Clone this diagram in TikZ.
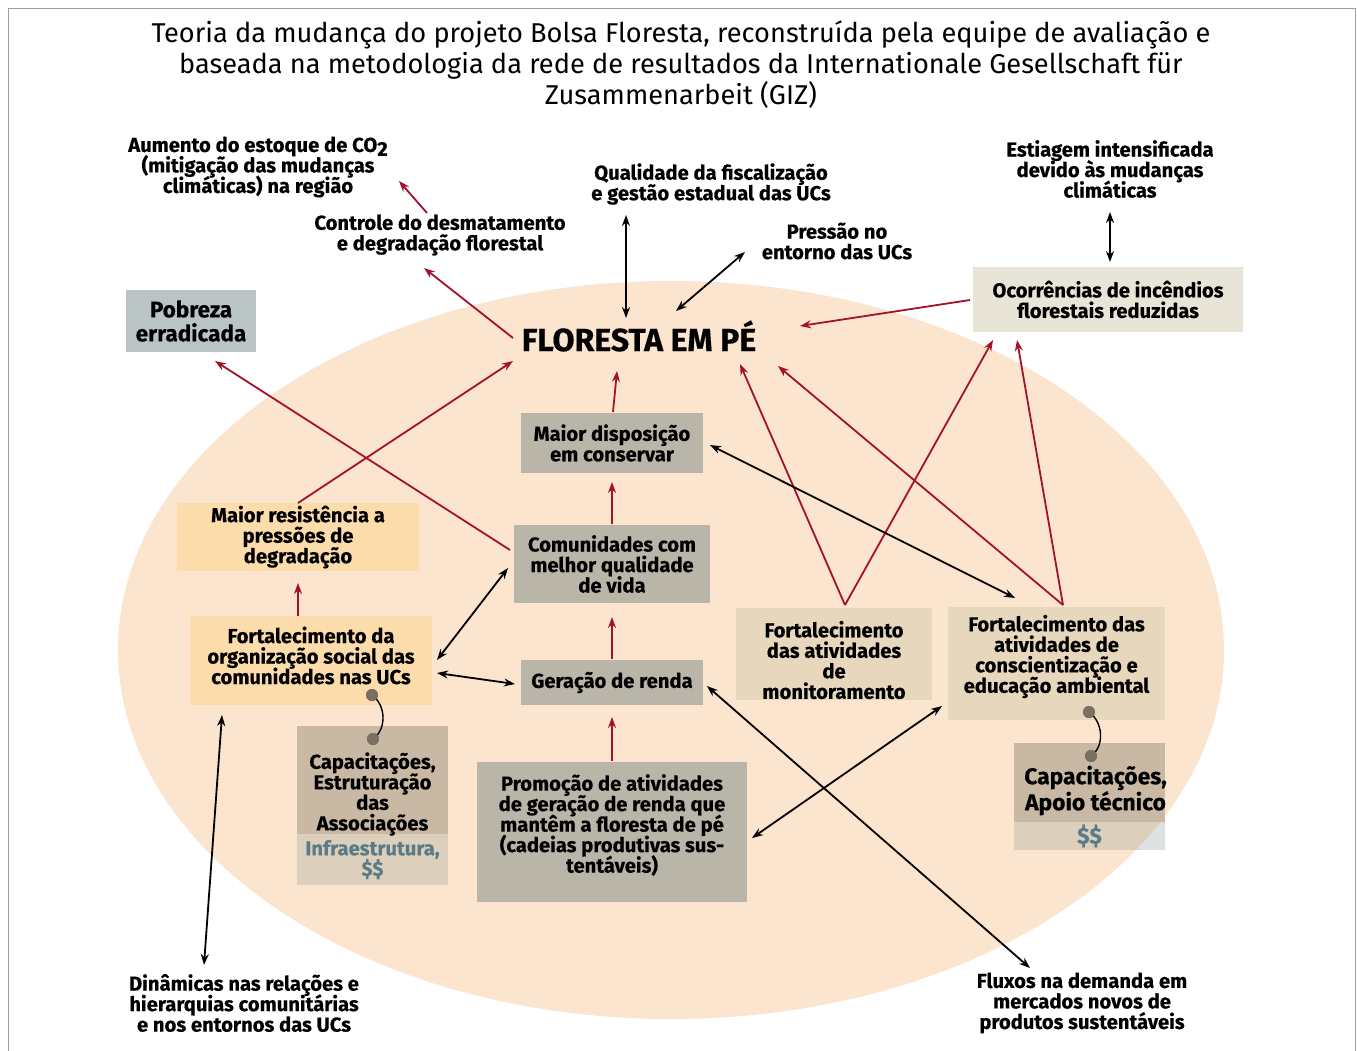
\documentclass[tikz,border=0pt]{standalone}
\usepackage{fontspec}
\setmainfont{Fira Sans}[BoldFeatures={FakeBold=0.4}]
\usetikzlibrary{calc,arrows.meta}
\newcommand\tightls{\lineskiplimit-30pt\relax}
\definecolor{peach}{HTML}{FCE5CE}
\definecolor{pobc}{HTML}{BAC4C5}
\definecolor{incc}{HTML}{E8E4D8}
\definecolor{grayc}{HTML}{B9B5A9}
\definecolor{orc}{HTML}{FDDCAB}
\definecolor{tanc}{HTML}{E6D7BD}
\definecolor{capc}{HTML}{C9B8A4}
\definecolor{bandc}{HTML}{DCCFBB}
\definecolor{bandout}{HTML}{DCE1E2}
\definecolor{dotc}{HTML}{7A6F62}
\definecolor{dred}{HTML}{A3122B}
\definecolor{framec}{HTML}{8FA3A8}
\definecolor{moneyc}{HTML}{5B7B87}
\tikzset{
  lbl/.style={align=center, font=\bfseries\fontsize{20.2}{20.5}\selectfont\tightls, inner sep=0pt},
  boxn/.style={rectangle, inner sep=0pt, draw=none},
  redarr/.style={draw=dred, line width=1.8pt, -{Stealth[length=11pt,width=8pt]}},
  blkarr/.style={draw=black, line width=1.8pt, -{Stealth[length=11pt,width=8pt]}},
  dblarr/.style={draw=black, line width=1.8pt, {Stealth[length=11pt,width=8pt]}-{Stealth[length=11pt,width=8pt]}},
  dotn/.style={circle, fill=dotc, minimum size=12pt, inner sep=0pt},
}
\begin{document}
\begin{tikzpicture}[x=1pt,y=-1pt]
\useasboundingbox (0,0) rectangle (1357,1050);
\fill[white] (0,0) rectangle (1357,1050);
\draw[framec, line width=1pt] (8,1060) -- (8,8) -- (1355,8) -- (1355,1060);
% ellipse
\fill[peach] (671,650) ellipse [x radius=553, y radius=369];
% title
\node[align=center, font=\fontsize{27.2}{31}\selectfont\tightls, inner sep=0pt] (title) at (681,65)
 {Teoria da mudança do projeto Bolsa Floresta, reconstruída pela equipe de avaliação e\\
  baseada na metodologia da rede de resultados da Internationale Gesellschaft für\\
  Zusammenarbeit (GIZ)};
% outer labels
\node[lbl] (aum) at (258,167) {Aumento do estoque de CO\raisebox{-4pt}{2}\\(mitigação das mudanças\\climáticas) na região};
\node[lbl] (ctrl) at (440,235) {Controle do desmatamento\\e degradação florestal};
\node[lbl] (qual) at (711,184) {Qualidade da fiscalização\\e gestão estadual das UCs};
\node[lbl] (press) at (837,241) {Pressão no\\entorno das UCs};
\node[lbl] (estg) at (1110,169) {Estiagem intensificada\\devido às mudanças\\climáticas};
\node[lbl] (din) at (244,1003) {Dinâmicas nas relações e\\hierarquias comunitárias\\e nos entornos das UCs};
\node[lbl] (flux) at (1082,1003) {Fluxos na demanda em\\mercados novos de\\produtos sustentáveis};
% boxes
\node[boxn, fill=pobc, minimum width=130pt, minimum height=62pt] (pob) at (191,321) {};
\node[lbl, font=\bfseries\fontsize{22.5}{24}\selectfont\tightls] at (pob) {Pobreza\\erradicada};
\node[lbl, font=\bfseries\fontsize{32}{34}\selectfont] (flor) at (639,336) {FLORESTA EM PÉ};
\node[boxn, fill=incc, minimum width=270pt, minimum height=65pt] (inc) at (1108,299.5) {};
\node[lbl] at (inc) {Ocorrências de incêndios\\florestais reduzidas};
\node[boxn, fill=grayc, minimum width=182pt, minimum height=60pt] (disp) at (612,443) {};
\node[lbl] at (disp) {Maior disposição\\em conservar};
\node[boxn, fill=grayc, minimum width=196pt, minimum height=78pt] (comm) at (612,564) {};
\node[lbl] at (comm) {Comunidades com\\melhor qualidade\\de vida};
\node[boxn, fill=orc, minimum width=242pt, minimum height=68pt] (resist) at (298,537) {};
\node[lbl] at (resist) {Maior resistência a\\pressões de\\degradação};
\node[boxn, fill=orc, minimum width=242pt, minimum height=89pt] (fortorg) at (311,660.5) {};
\node[lbl] at ($(fortorg)+(0,-5)$) {Fortalecimento da\\organização social das\\comunidades nas UCs};
\node[boxn, fill=grayc, minimum width=182pt, minimum height=45pt] (ger) at (612,682.5) {};
\node[lbl] at (ger) {Geração de renda};
\node[boxn, fill=grayc, minimum width=270pt, minimum height=140pt] (prom) at (612,832) {};
\node[lbl] at ($(prom)+(0,-7)$) {Promoção de atividades\\de geração de renda que\\mantêm a floresta de pé\\(cadeias produtivas sus-\\tentáveis)};
\node[boxn, fill=capc, minimum width=151pt, minimum height=108pt] (capL) at (372.5,780) {};
\node[boxn, fill=bandc, minimum width=151pt, minimum height=51pt] (capLb) at (372.5,859.5) {};
\node[lbl] at ($(capL)+(0,14)$) {Capacitações,\\Estruturação\\das\\Associações};
\node[lbl, text=moneyc] at (capLb) {Infraestrutura,\\\$\$};
\node[boxn, fill=tanc, minimum width=196pt, minimum height=92pt] (monit) at (834,654) {};
\node[lbl] at ($(monit)+(0,6)$) {Fortalecimento\\das atividades\\de\\monitoramento};
\node[boxn, fill=tanc, minimum width=217pt, minimum height=113pt] (consc) at (1056.5,663.5) {};
\node[lbl] at ($(consc)+(0,-7)$) {Fortalecimento das\\atividades de\\conscientização e\\educação ambiental};
\node[boxn, fill=capc, minimum width=151pt, minimum height=79pt] (capR) at (1089.5,782.5) {};
\node[boxn, fill=bandout, minimum width=151pt, minimum height=28pt] (capRb) at (1089.5,836) {};
\begin{scope}
\clip (671,650) ellipse [x radius=553, y radius=369];
\fill[bandc] (capRb.north west) rectangle (capRb.south east);
\end{scope}
\node[lbl, font=\bfseries\fontsize{22.8}{26}\selectfont\tightls] at ($(capR)+(6,8)$) {Capacitações,\\Apoio técnico};
\node[lbl, font=\bfseries\fontsize{22.8}{26}\selectfont, text=moneyc] at (capRb) {\$\$};
% dots
\node[dotn] (d1) at ($(fortorg)+(61,34.5)$) {};
\node[dotn] (d2) at ($(capL)+(0.5,-41)$) {};
\node[dotn] (d3) at ($(consc)+(32.5,48.5)$) {};
\node[dotn] (d4) at ($(capR)+(1.5,-26.5)$) {};
\draw[black, line width=1.4pt] (d1.center) .. controls +(14,10) and +(14,-10) .. (d2.center);
\draw[black, line width=1.4pt] (d3.center) .. controls +(14,10) and +(14,-10) .. (d4.center);
\fill[dotc] (d1) circle (6pt); \fill[dotc] (d2) circle (6pt);
\fill[dotc] (d3) circle (6pt); \fill[dotc] (d4) circle (6pt);
% red arrows
\draw[redarr] ($(ctrl)+(-13,-22)$) -- ($(aum)+(141,14)$);
\draw[redarr] ($(flor)+(-126,2)$) -- ($(ctrl)+(-16,33)$);
\draw[redarr] ($(inc)+(-138,0.5)$) -- ($(flor)+(161,-10)$);
\draw[redarr] ($(disp)+(1,-31)$) -- ($(flor)+(-22,35)$);
\draw[redarr] ($(comm)+(0,-40)$) -- ($(disp)+(0,39)$);
\draw[redarr] ($(ger)+(0,-23.5)$) -- ($(comm)+(0,53)$);
\draw[redarr] ($(prom)+(0,-71)$) -- ($(ger)+(0,34.5)$);
\draw[redarr] ($(comm)+(-102,-14)$) -- ($(pob)+(24,40)$);
\draw[redarr] ($(resist)+(0,-34)$) -- ($(flor)+(-126,25)$);
\draw[redarr] ($(fortorg)+(-13,-44.5)$) -- ($(resist)+(0,46)$);
\draw[redarr] ($(monit)+(11,-49)$) -- ($(flor)+(101,28)$);
\draw[redarr] ($(monit)+(11,-49)$) -- ($(inc)+(-115,40.5)$);
\draw[redarr] ($(consc)+(6.5,-58.5)$) -- ($(flor)+(139,30)$);
\draw[redarr] ($(consc)+(6.5,-58.5)$) -- ($(inc)+(-91,40.5)$);
% black arrows
\draw[dblarr] ($(qual)+(-85,31)$) -- ($(flor)+(-13,-18)$);
\draw[dblarr] ($(press)+(-92,11)$) -- ($(flor)+(37,-25)$);
\draw[dblarr] ($(estg)+(0,43)$) -- ($(inc)+(2,-37.5)$);
\draw[dblarr] ($(disp)+(98,2)$) -- ($(consc)+(-41.5,-65.5)$);
\draw[dblarr] ($(fortorg)+(126,-0.5)$) -- ($(comm)+(-104,4)$);
\draw[dblarr] ($(fortorg)+(126,12.5)$) -- ($(ger)+(-97,1.5)$);
\draw[dblarr] ($(din)+(-40,-38)$) -- ($(fortorg)+(-89,54.5)$);
\draw[dblarr] ($(ger)+(95,3.5)$) -- ($(flux)+(-52,-35)$);
\draw[dblarr] ($(prom)+(140,6)$) -- ($(consc)+(-114.5,42.5)$);
\end{tikzpicture}
\end{document}
